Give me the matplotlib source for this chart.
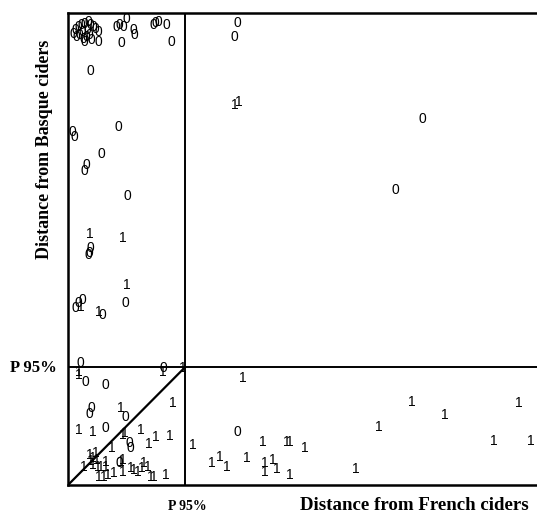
import matplotlib.pyplot as plt

# distances (French, Basque) for ciders labelled 0 and 1; P95 threshold = 1
x0 = [0.043, 0.060, 0.085, 0.111, 0.136, 0.171, 0.188, 0.213, 0.230, 0.256,
      0.068, 0.094, 0.128, 0.154, 0.179, 0.136, 0.196, 0.256, 0.119, 0.162,
      0.409, 0.435, 0.469, 0.495, 0.554, 0.563, 0.452, 0.725, 0.742, 0.768,
      0.836, 0.878, 1.441, 1.416, 0.188, 0.034, 0.051, 0.426, 0.281, 0.154,
      0.136, 0.503, 3.019, 2.789, 0.188, 0.179, 0.171, 0.486, 0.060, 0.085,
      0.119, 0.290, 0.102, 0.810, 0.145, 0.316, 0.196, 0.179, 0.486, 0.316,
      0.520, 0.529, 0.435, 1.441]
y0 = [3.822, 3.856, 3.881, 3.898, 3.907, 3.924, 3.898, 3.881, 3.864, 3.839,
      3.797, 3.814, 3.780, 3.797, 3.814, 3.754, 3.771, 3.754, 3.839, 3.856,
      3.881, 3.898, 3.881, 3.949, 3.856, 3.814, 3.746, 3.898, 3.915, 3.924,
      3.898, 3.754, 3.915, 3.797, 3.508, 2.992, 2.949, 3.034, 2.805, 2.712,
      2.661, 2.449, 3.102, 2.500, 2.008, 1.966, 1.949, 1.542, 1.500, 1.542,
      1.568, 1.441, 1.034, 0.992, 0.873, 0.847, 0.653, 0.602, 0.576, 0.483,
      0.356, 0.314, 0.186, 0.449]

x1 = [1.424, 1.458, 0.188, 0.469, 0.503, 0.111, 0.264, 0.094, 0.094, 0.810,
      0.981, 1.493, 0.896, 0.452, 0.094, 0.213, 0.469, 0.486, 0.623, 0.751,
      0.870, 0.691, 0.375, 0.188, 0.213, 0.239, 0.196, 0.247, 0.136, 0.213,
      0.256, 0.281, 0.324, 0.324, 0.452, 0.469, 0.392, 0.264, 0.307, 0.341,
      0.469, 0.537, 0.563, 0.597, 0.631, 0.648, 0.682, 0.708, 0.733, 0.836,
      1.066, 1.663, 1.868, 1.893, 2.021, 1.296, 1.228, 1.356, 1.527, 1.680,
      1.748, 1.680, 1.783, 1.893, 2.456, 2.934, 3.215, 2.652, 3.846, 3.633,
      3.949]
y1 = [3.220, 3.246, 2.127, 2.093, 1.695, 1.508, 1.466, 0.958, 0.932, 0.958,
      0.992, 0.907, 0.695, 0.653, 0.466, 0.449, 0.424, 0.441, 0.466, 0.407,
      0.415, 0.347, 0.314, 0.254, 0.229, 0.271, 0.203, 0.212, 0.153, 0.169,
      0.153, 0.153, 0.153, 0.195, 0.195, 0.212, 0.102, 0.068, 0.068, 0.085,
      0.110, 0.144, 0.127, 0.110, 0.144, 0.186, 0.153, 0.068, 0.068, 0.085,
      0.339, 0.364, 0.364, 0.364, 0.314, 0.237, 0.186, 0.153, 0.229, 0.186,
      0.212, 0.110, 0.136, 0.085, 0.136, 0.703, 0.593, 0.492, 0.695, 0.373,
      0.373]

p95 = 1.0
serif = ['Liberation Serif', 'DejaVu Serif']
sans = ['Liberation Sans', 'DejaVu Sans']

fig = plt.figure(figsize=(5.37, 5.16), dpi=100)
ax = fig.add_axes([68 / 537, 1 - 485 / 516, 1 - 68 / 537, 472 / 516])
ax.set_xlim(0, 4)
ax.set_ylim(0, 4)
ax.set_xticks([])
ax.set_yticks([])
ax.spines['right'].set_visible(False)
for s in ['left', 'top', 'bottom']:
    ax.spines[s].set_linewidth(1.8)

ax.axvline(p95, color='black', lw=1.4)
ax.axhline(p95, color='black', lw=1.4)
ax.plot([0, p95], [0, p95], color='black', lw=1.6)

for x, y in zip(x0, y0):
    ax.text(x, y, '0', ha='center', va='center', fontsize=10,
            fontweight='medium', family=sans)
for x, y in zip(x1, y1):
    ax.text(x, y, '1', ha='center', va='center', fontsize=10,
            fontweight='medium', family=sans)

fig.text(45 / 537, 1 - 149 / 516, 'Distance from Basque ciders', rotation=90,
         ha='center', va='center', fontsize=13, fontweight='bold', family=serif)
fig.text(414 / 537, 1 - 506 / 516, 'Distance from French ciders',
         ha='center', va='center', fontsize=13.6, fontweight='bold', family=serif)
fig.text(187 / 537, 1 - 506 / 516, 'P 95%',
         ha='center', va='center', fontsize=10, fontweight='bold', family=serif)
fig.text(33 / 537, 1 - 368 / 516, 'P 95%',
         ha='center', va='center', fontsize=12, fontweight='bold', family=serif)

fig.savefig('out.png', dpi=100)
